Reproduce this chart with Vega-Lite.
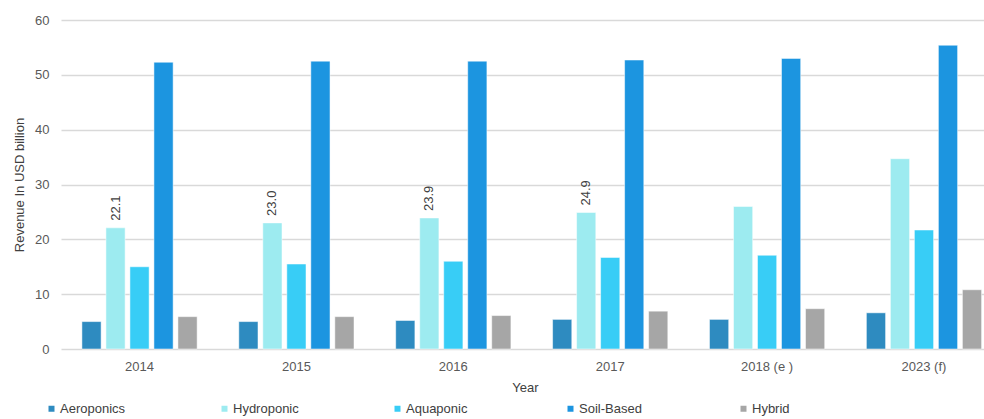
{
  "$schema": "https://vega.github.io/schema/vega-lite/v6.json",
  "width": 923,
  "height": 329,
  "autosize": {"type": "none"},
  "padding": {"left": 61, "top": 20, "right": 0, "bottom": 70},
  "background": "white",
  "config": {
    "font": "Liberation Sans",
    "view": {"stroke": null},
    "axis": {"labelColor": "#595959", "titleColor": "#404040", "labelFontSize": 13, "titleFontSize": 13, "titleFontWeight": "normal"}
  },
  "data": {
    "values": [
      {"year": "2014", "series": "Aeroponics", "revenue": 5.0},
      {"year": "2014", "series": "Hydroponic", "revenue": 22.1},
      {"year": "2014", "series": "Aquaponic", "revenue": 15.0},
      {"year": "2014", "series": "Soil-Based", "revenue": 52.3},
      {"year": "2014", "series": "Hybrid", "revenue": 5.9},
      {"year": "2015", "series": "Aeroponics", "revenue": 5.0},
      {"year": "2015", "series": "Hydroponic", "revenue": 23.0},
      {"year": "2015", "series": "Aquaponic", "revenue": 15.5},
      {"year": "2015", "series": "Soil-Based", "revenue": 52.5},
      {"year": "2015", "series": "Hybrid", "revenue": 5.9},
      {"year": "2016", "series": "Aeroponics", "revenue": 5.2},
      {"year": "2016", "series": "Hydroponic", "revenue": 23.9},
      {"year": "2016", "series": "Aquaponic", "revenue": 16.0},
      {"year": "2016", "series": "Soil-Based", "revenue": 52.5},
      {"year": "2016", "series": "Hybrid", "revenue": 6.1},
      {"year": "2017", "series": "Aeroponics", "revenue": 5.4},
      {"year": "2017", "series": "Hydroponic", "revenue": 24.9},
      {"year": "2017", "series": "Aquaponic", "revenue": 16.7},
      {"year": "2017", "series": "Soil-Based", "revenue": 52.7},
      {"year": "2017", "series": "Hybrid", "revenue": 6.9},
      {"year": "2018 (e )", "series": "Aeroponics", "revenue": 5.4},
      {"year": "2018 (e )", "series": "Hydroponic", "revenue": 26.0},
      {"year": "2018 (e )", "series": "Aquaponic", "revenue": 17.1},
      {"year": "2018 (e )", "series": "Soil-Based", "revenue": 53.0},
      {"year": "2018 (e )", "series": "Hybrid", "revenue": 7.35},
      {"year": "2023 (f)", "series": "Aeroponics", "revenue": 6.6},
      {"year": "2023 (f)", "series": "Hydroponic", "revenue": 34.7},
      {"year": "2023 (f)", "series": "Aquaponic", "revenue": 21.7},
      {"year": "2023 (f)", "series": "Soil-Based", "revenue": 55.4},
      {"year": "2023 (f)", "series": "Hybrid", "revenue": 10.8}
    ]
  },
  "encoding": {
    "x": {
      "field": "year",
      "type": "nominal",
      "sort": null,
      "scale": {"paddingInner": 0.235, "paddingOuter": 0.059, "align": 1},
      "axis": {
        "title": "Year",
        "labelAngle": 0,
        "ticks": false,
        "domain": false,
        "labelPadding": 11,
        "titlePadding": 8,
        "titleX": 464
      }
    },
    "xOffset": {
      "field": "series",
      "type": "nominal",
      "sort": ["Aeroponics", "Hydroponic", "Aquaponic", "Soil-Based", "Hybrid"],
      "scale": {"paddingInner": 0.2, "paddingOuter": 0.1}
    },
    "y": {
      "field": "revenue",
      "type": "quantitative",
      "scale": {"domain": [0, 60]},
      "axis": {
        "title": "Revenue In USD billion",
        "values": [0, 10, 20, 30, 40, 50, 60],
        "domain": false,
        "ticks": false,
        "labelPadding": 12,
        "titlePadding": 8,
        "gridColor": "#d9d9d9",
        "gridWidth": 1.3
      }
    }
  },
  "layer": [
    {
      "mark": {"type": "bar", "stroke": "white", "strokeWidth": 1, "strokeOpacity": 0.5},
      "encoding": {
        "color": {
          "field": "series",
          "type": "nominal",
          "scale": {
            "domain": ["Aeroponics", "Hydroponic", "Aquaponic", "Soil-Based", "Hybrid"],
            "range": ["#2E8BC0", "#9DEBF0", "#38CDF6", "#1C95E0", "#A6A6A6"]
          },
          "legend": {
            "orient": "none",
            "direction": "horizontal",
            "columns": 5,
            "gridAlign": "all",
            "title": null,
            "legendX": -16,
            "legendY": 382,
            "symbolType": "square",
            "symbolSize": 36,
            "symbolStrokeWidth": 0,
            "labelFontSize": 13,
            "labelColor": "#404040",
            "labelOffset": 2,
            "columnPadding": 92
          }
        }
      }
    },
    {
      "transform": [
        {"filter": {"field": "series", "equal": "Hydroponic"}},
        {"filter": {"field": "year", "oneOf": ["2014", "2015", "2016", "2017"]}}
      ],
      "mark": {"type": "text", "angle": 270, "align": "left", "baseline": "middle", "dx": 7, "fontSize": 13, "color": "#404040"},
      "encoding": {
        "text": {"field": "revenue", "type": "quantitative", "format": ".1f"}
      }
    }
  ]
}
